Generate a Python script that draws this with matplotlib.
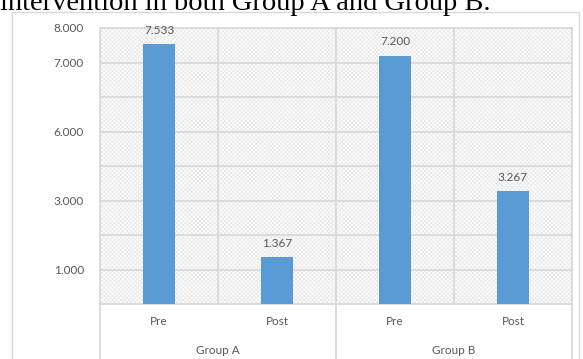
import matplotlib
matplotlib.use("Agg")
import matplotlib.pyplot as plt
from matplotlib.patches import Rectangle
from matplotlib.transforms import blended_transform_factory

# data
groups = ["Group A", "Group B"]
phases = ["Pre", "Post", "Pre", "Post"]
scores = [7.533, 1.367, 7.200, 3.267]
ytick_pos = [8, 7, 5, 3, 1]
ytick_lab = ["8.000", "7.000", "6.000", "3.000", "1.000"]
title = "intervention in both Group A and Group B."

plt.rcParams["font.family"] = ["Lato", "DejaVu Sans"]
plt.rcParams["hatch.linewidth"] = 0.6
grid_c = "#d9d9d9"
txt_c = "#595959"

fig = plt.figure(figsize=(5.83, 3.59), dpi=100)
W, H = 583, 359

# clipped caption text from the page above the chart
fig.text(0, 1 - 10 / H, title, family="Liberation Serif", fontsize=20.5,
         color="black", va="baseline", ha="left")
# outer chart frame
fig.add_artist(Rectangle((12 / W, -0.05), (579 - 12) / W, 1.05 - 12 / H,
                         transform=fig.transFigure, fill=False,
                         edgecolor=grid_c, lw=1))

ax = fig.add_axes([100 / W, (H - 304) / H, (572 - 100) / W, (304 - 28) / H])
ax.add_patch(Rectangle((0, 0), 1, 1, transform=ax.transAxes, facecolor="white",
                       hatch="xxxxxxxx", edgecolor="#e8e8e8", lw=0, zorder=0))

x = list(range(len(scores)))
ax.bar(x, scores, width=0.27, color="#5B9BD5", zorder=3)
for xi, v in zip(x, scores):
    ax.annotate(f"{v:.3f}", (xi, v), xytext=(0, 6), textcoords="offset points",
                ha="center", va="bottom", fontsize=8.5, color=txt_c)

ax.set_xlim(-0.5, len(scores) - 0.5)
ax.set_ylim(0, 8)
for yv in range(1, 9):
    ax.axhline(yv, color=grid_c, lw=1.3, zorder=1)
for xv in [0.5, 1.5, 2.5]:
    ax.axvline(xv, color=grid_c, lw=1.3, zorder=1)

ax.set_xticks([])
ax.set_yticks(ytick_pos)
ax.set_yticklabels(ytick_lab, fontsize=8.5, color=txt_c)
ax.tick_params(axis="y", length=0, pad=11.5)
for s in ax.spines.values():
    s.set_color(grid_c)
    s.set_linewidth(1.3)

# category axis below the plot
tr = blended_transform_factory(ax.transData, ax.transAxes)
for xv in [-0.5, 1.5, 3.5]:
    ax.plot([xv, xv], [0, -0.3], color=grid_c, lw=1.3, transform=tr, clip_on=False)
for xi, lab in zip(x, phases):
    ax.text(xi, -0.065, lab, transform=tr, ha="center", va="center",
            fontsize=8.5, color=txt_c)
for gi, g in enumerate(groups):
    ax.text(2 * gi + 0.5, -0.167, g, transform=tr, ha="center", va="center",
            fontsize=8.5, color=txt_c)

fig.savefig("out.png", dpi=100)
